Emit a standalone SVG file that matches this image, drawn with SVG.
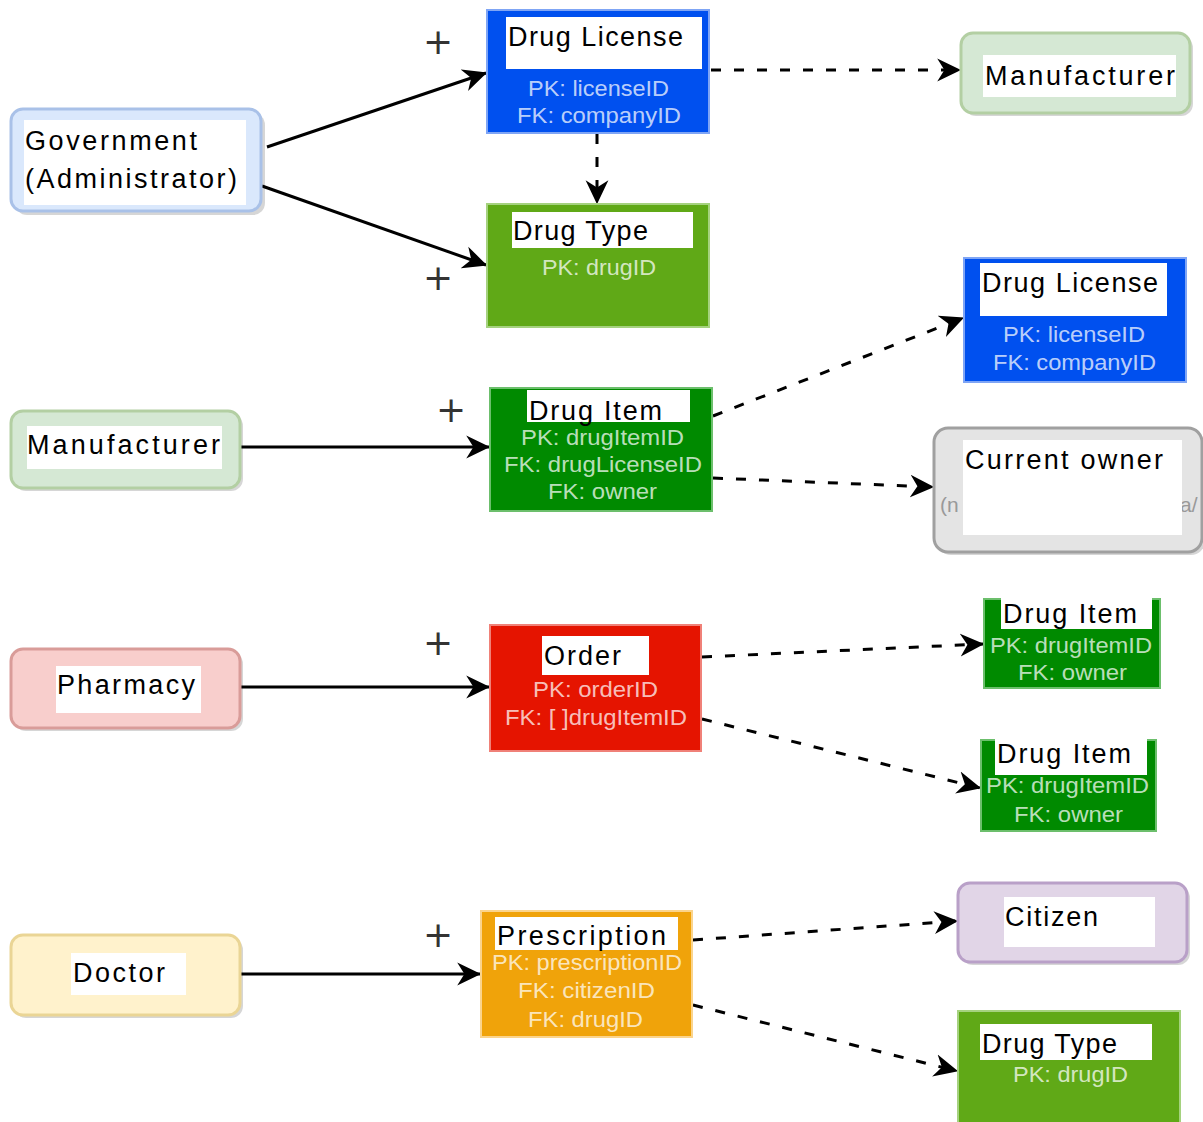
<svg xmlns="http://www.w3.org/2000/svg" width="1203" height="1122" viewBox="0 0 1203 1122">
<style>
.t{font-family:"Liberation Sans",Arial,sans-serif;font-size:27px;fill:#000}
.s{font-family:"Liberation Sans",Arial,sans-serif;font-size:22px;fill:#fff;fill-opacity:0.74}
.lbl{fill:#fff}
.sh{fill:#000;fill-opacity:0.16}
.plus{font-family:"DejaVu Sans",sans-serif;font-size:36px;fill:#333;text-anchor:middle}
.c{fill:none;stroke:#000;stroke-width:3}
.d{stroke-dasharray:10 13}
</style>
<defs>
<marker id="ah" viewBox="0 0 20 20" markerWidth="24" markerHeight="24" refX="19" refY="10" orient="auto" markerUnits="userSpaceOnUse">
<path d="M0,0.5 L20,10 L0,19.5 L6,10 Z" fill="#000"/>
</marker>
</defs>
<rect width="1203" height="1122" fill="#fff"/>

<g id="connectors">
<path class="c" d="M267,147 L486,73" marker-end="url(#ah)"/>
<path class="c" d="M262,186 L486,265" marker-end="url(#ah)"/>
<path class="c d" d="M711,70 L960,70" marker-end="url(#ah)"/>
<path class="c d" d="M597,134 L597,203" marker-end="url(#ah)"/>
<path class="c" d="M240,447 L489,447" marker-end="url(#ah)"/>
<path class="c d" d="M713,416 L963,318" marker-end="url(#ah)"/>
<path class="c d" d="M713,478 L933,487" marker-end="url(#ah)"/>
<path class="c" d="M240,687 L489,687" marker-end="url(#ah)"/>
<path class="c d" d="M702,657 L983,644" marker-end="url(#ah)"/>
<path class="c d" d="M702,719 L980,788" marker-end="url(#ah)"/>
<path class="c" d="M240,974 L480,974" marker-end="url(#ah)"/>
<path class="c d" d="M693,940 L957,921" marker-end="url(#ah)"/>
<path class="c d" d="M693,1005 L957,1071" marker-end="url(#ah)"/>
</g>

<g id="plus-labels">
<text class="plus" x="438" y="54">+</text>
<text class="plus" x="438" y="290">+</text>
<text class="plus" x="451" y="422">+</text>
<text class="plus" x="438" y="655">+</text>
<text class="plus" x="438" y="947">+</text>
</g>

<g id="government">
<rect class="sh" x="15" y="113" width="250" height="102" rx="12"/>
<rect x="11" y="109" width="250" height="102" rx="12" fill="#dae8fc" stroke="#a9c1e8" stroke-width="3"/>
<rect class="lbl" x="24" y="120" width="222" height="85"/>
<text class="t" x="25" y="150" textLength="172" lengthAdjust="spacing">Government</text>
<text class="t" x="25" y="188" textLength="212" lengthAdjust="spacing">(Administrator)</text>
</g>

<g id="drug-license-1">
<rect x="487" y="10" width="222" height="123" fill="#0050ef" stroke="#7fa5f5" stroke-width="2"/>
<rect class="lbl" x="506" y="17" width="196" height="52"/>
<text class="t" x="508" y="46" textLength="175" lengthAdjust="spacing">Drug License</text>
<text class="s" x="528" y="96" textLength="141" lengthAdjust="spacingAndGlyphs">PK: licenseID</text>
<text class="s" x="517" y="123" textLength="164" lengthAdjust="spacingAndGlyphs">FK: companyID</text>
</g>

<g id="manufacturer-1">
<rect class="sh" x="964" y="36" width="229" height="80" rx="12"/>
<rect x="961" y="33" width="229" height="80" rx="12" fill="#d5e8d4" stroke="#b3cfa3" stroke-width="3"/>
<rect class="lbl" x="983" y="55" width="193" height="42"/>
<text class="t" x="985" y="85" textLength="190" lengthAdjust="spacing">Manufacturer</text>
</g>

<g id="drug-type-1">
<rect x="487" y="204" width="222" height="123" fill="#60a917" stroke="#a5d27f" stroke-width="2"/>
<rect class="lbl" x="512" y="212" width="181" height="36"/>
<text class="t" x="513" y="240" textLength="135" lengthAdjust="spacing">Drug Type</text>
<text class="s" x="542" y="275" textLength="114" lengthAdjust="spacingAndGlyphs">PK: drugID</text>
</g>

<g id="drug-license-2">
<rect x="964" y="258" width="222" height="124" fill="#0050ef" stroke="#7fa5f5" stroke-width="2"/>
<rect class="lbl" x="980" y="263" width="187" height="53"/>
<text class="t" x="982" y="292" textLength="176" lengthAdjust="spacing">Drug License</text>
<text class="s" x="1003" y="342" textLength="142" lengthAdjust="spacingAndGlyphs">PK: licenseID</text>
<text class="s" x="993" y="370" textLength="163" lengthAdjust="spacingAndGlyphs">FK: companyID</text>
</g>

<g id="manufacturer-2">
<rect class="sh" x="14" y="414" width="229" height="77" rx="12"/>
<rect x="11" y="411" width="229" height="77" rx="12" fill="#d5e8d4" stroke="#b3cfa3" stroke-width="3"/>
<rect class="lbl" x="27" y="426" width="195" height="43"/>
<text class="t" x="27" y="454" textLength="193" lengthAdjust="spacing">Manufacturer</text>
</g>

<g id="drug-item-1">
<rect x="490" y="388" width="222" height="123" fill="#008a00" stroke="#6cbf6c" stroke-width="2"/>
<rect class="lbl" x="527" y="390" width="163" height="32"/>
<text class="t" x="529" y="420" textLength="133" lengthAdjust="spacing">Drug Item</text>
<text class="s" x="521" y="445" textLength="163" lengthAdjust="spacingAndGlyphs">PK: drugItemID</text>
<text class="s" x="504" y="472" textLength="198" lengthAdjust="spacingAndGlyphs">FK: drugLicenseID</text>
<text class="s" x="548" y="499" textLength="109" lengthAdjust="spacingAndGlyphs">FK: owner</text>
</g>

<g id="current-owner">
<rect class="sh" x="937" y="431" width="268" height="124" rx="14"/>
<rect x="934" y="428" width="268" height="124" rx="14" fill="#e4e4e4" stroke="#a0a0a0" stroke-width="3"/>
<text x="940" y="512" font-family="Liberation Sans, Arial, sans-serif" font-size="21" fill="#999">(n</text>
<text x="1180" y="512" font-family="Liberation Sans, Arial, sans-serif" font-size="21" fill="#999">a/</text>
<rect class="lbl" x="963" y="440" width="219" height="95"/>
<text class="t" x="965" y="469" textLength="198" lengthAdjust="spacing">Current owner</text>
</g>

<g id="pharmacy">
<rect class="sh" x="14" y="652" width="229" height="79" rx="12"/>
<rect x="11" y="649" width="229" height="79" rx="12" fill="#f8cecc" stroke="#d99c99" stroke-width="3"/>
<rect class="lbl" x="56" y="666" width="145" height="47"/>
<text class="t" x="57" y="694" textLength="138" lengthAdjust="spacing">Pharmacy</text>
</g>

<g id="order">
<rect x="490" y="625" width="211" height="126" fill="#e51400" stroke="#f08178" stroke-width="2"/>
<rect class="lbl" x="542" y="636" width="107" height="39"/>
<text class="t" x="544" y="665" textLength="77" lengthAdjust="spacing">Order</text>
<text class="s" x="533" y="697" textLength="125" lengthAdjust="spacingAndGlyphs">PK: orderID</text>
<text class="s" x="505" y="725" textLength="182" lengthAdjust="spacingAndGlyphs">FK: [ ]drugItemID</text>
</g>

<g id="drug-item-2">
<rect x="984" y="599" width="176" height="89" fill="#008a00" stroke="#6cbf6c" stroke-width="2"/>
<rect class="lbl" x="1001" y="598" width="151" height="31"/>
<text class="t" x="1003" y="623" textLength="134" lengthAdjust="spacing">Drug Item</text>
<text class="s" x="990" y="653" textLength="162" lengthAdjust="spacingAndGlyphs">PK: drugItemID</text>
<text class="s" x="1018" y="680" textLength="109" lengthAdjust="spacingAndGlyphs">FK: owner</text>
</g>

<g id="drug-item-3">
<rect x="981" y="740" width="175" height="91" fill="#008a00" stroke="#6cbf6c" stroke-width="2"/>
<rect class="lbl" x="995" y="739" width="152" height="36"/>
<text class="t" x="997" y="763" textLength="134" lengthAdjust="spacing">Drug Item</text>
<text class="s" x="986" y="793" textLength="163" lengthAdjust="spacingAndGlyphs">PK: drugItemID</text>
<text class="s" x="1014" y="822" textLength="109" lengthAdjust="spacingAndGlyphs">FK: owner</text>
</g>

<g id="doctor">
<rect class="sh" x="14" y="938" width="229" height="80" rx="12"/>
<rect x="11" y="935" width="229" height="80" rx="12" fill="#fff2cc" stroke="#ead595" stroke-width="3"/>
<rect class="lbl" x="71" y="953" width="115" height="42"/>
<text class="t" x="73" y="982" textLength="92" lengthAdjust="spacing">Doctor</text>
</g>

<g id="prescription">
<rect x="481" y="911" width="211" height="126" fill="#f0a30a" stroke="#fbd48c" stroke-width="2"/>
<rect class="lbl" x="495" y="917" width="183" height="33"/>
<text class="t" x="497" y="945" textLength="169" lengthAdjust="spacing">Prescription</text>
<text class="s" x="492" y="970" textLength="190" lengthAdjust="spacingAndGlyphs">PK: prescriptionID</text>
<text class="s" x="518" y="998" textLength="137" lengthAdjust="spacingAndGlyphs">FK: citizenID</text>
<text class="s" x="528" y="1027" textLength="115" lengthAdjust="spacingAndGlyphs">FK: drugID</text>
</g>

<g id="citizen">
<rect class="sh" x="961" y="886" width="229" height="79" rx="12"/>
<rect x="958" y="883" width="229" height="79" rx="12" fill="#e1d5e7" stroke="#b9a0c8" stroke-width="3"/>
<rect class="lbl" x="1004" y="897" width="151" height="50"/>
<text class="t" x="1005" y="926" textLength="93" lengthAdjust="spacing">Citizen</text>
</g>

<g id="drug-type-2">
<rect x="958" y="1011" width="222" height="124" fill="#60a917" stroke="#a5d27f" stroke-width="2"/>
<rect class="lbl" x="980" y="1024" width="172" height="36"/>
<text class="t" x="982" y="1053" textLength="135" lengthAdjust="spacing">Drug Type</text>
<text class="s" x="1013" y="1082" textLength="115" lengthAdjust="spacingAndGlyphs">PK: drugID</text>
</g>
</svg>
